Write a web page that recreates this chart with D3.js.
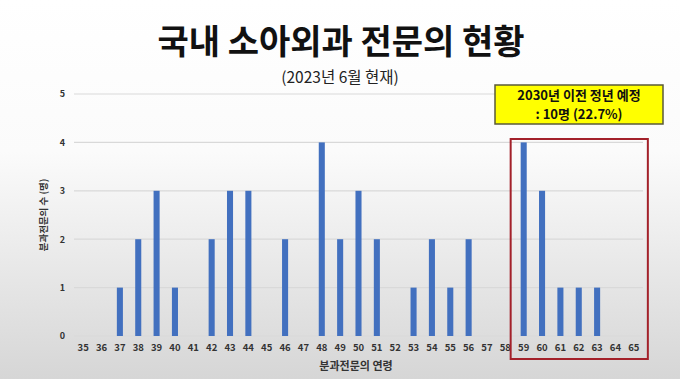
<!DOCTYPE html>
<html><head><meta charset="utf-8">
<script src="https://cdn.jsdelivr.net/npm/d3@7"></script>
<style>body{margin:0;}svg{display:block;}</style>
</head><body>
<script>
const ages = d3.range(35, 66).map(String);
const counts = [0,0,1,2,3,1,0,2,3,3,0,2,0,4,2,3,2,0,1,2,1,2,0,0,4,3,1,1,1,0,0];
const yTicks = [0,1,2,3,4,5];
const title = "국내 소아외과 전문의 현황";
const subtitle = "(2023년 6월 현재)";
const noteLines = ["2030년 이전 정년 예정", ": 10명 (22.7%)"];
const highlightAges = ["59","65"];
const yLabel = "분과전문의 수 (명)";
const xLabel = "분과전문의 연령";

(function(){
const W = 680, H = 379;
const svg = d3.select("body").append("svg").attr("width", W).attr("height", H);
const defs = svg.append("defs");
const g1 = defs.append("linearGradient").attr("id","bg").attr("x1",0).attr("y1",0).attr("x2",0).attr("y2",1);
g1.append("stop").attr("offset","0%").attr("stop-color","#ffffff");
g1.append("stop").attr("offset","40%").attr("stop-color","#fbfbfb");
g1.append("stop").attr("offset","100%").attr("stop-color","#d6d6d6");
svg.append("rect").attr("width",W).attr("height",H).attr("fill","url(#bg)");

const font = "'Noto Sans CJK KR', 'Noto Sans', sans-serif";
const pl = 74, pr = 643, pt = 94, pb = 336;
const x = d3.scaleBand().domain(ages).range([pl, pr]).paddingInner(0.67).paddingOuter(0.335);
const y = d3.scaleLinear().domain([0,5]).range([pb, pt]);

svg.append("g").selectAll("line").data(yTicks).join("line")
  .attr("x1", pl).attr("x2", pr)
  .attr("y1", d=>y(d)).attr("y2", d=>y(d))
  .attr("stroke", "#d9d9d9").attr("stroke-width", 1.2);

const yAxis = d3.axisLeft(y).tickValues(yTicks).tickFormat(d3.format("d")).tickSize(0).tickPadding(9);
const ya = svg.append("g").attr("transform",`translate(${pl},0)`).call(yAxis);
ya.select(".domain").remove();
ya.selectAll("text").attr("font-family", font).attr("font-size", 9).attr("font-weight","bold").attr("fill","#333");

const xAxis = d3.axisBottom(x).tickSize(0).tickPadding(8);
const xa = svg.append("g").attr("transform",`translate(0,${pb})`).call(xAxis);
xa.select(".domain").remove();
xa.selectAll("text").attr("font-family", font).attr("font-size", 9.5).attr("font-weight","bold").attr("fill","#333");

svg.append("g").selectAll("rect").data(counts.map((c,i)=>({a:ages[i],c}))).join("rect")
  .attr("x", d=>x(d.a)).attr("width", x.bandwidth())
  .attr("y", d=>y(d.c)).attr("height", d=>pb - y(d.c))
  .attr("fill", "#4270bf");

svg.append("text").attr("x", 341).attr("y", 54).attr("text-anchor","middle")
  .attr("font-family", font).attr("font-size", 34).attr("font-weight","bold").attr("fill","#111").text(title);
svg.append("text").attr("x", 340).attr("y", 83).attr("text-anchor","middle")
  .attr("font-family", font).attr("font-size", 15.5).attr("fill","#222").text(subtitle);

svg.append("text").attr("transform","translate(47,215) rotate(-90)").attr("text-anchor","middle")
  .attr("font-family", font).attr("font-size", 9.5).attr("font-weight","bold").attr("fill","#333").text(yLabel);
svg.append("text").attr("x", 356).attr("y", 370).attr("text-anchor","middle")
  .attr("font-family", font).attr("font-size", 11).attr("font-weight","bold").attr("fill","#333").text(xLabel);

const hx0 = x(highlightAges[0]) - 10, hx1 = x(highlightAges[1]) + x.bandwidth() + 11;
svg.append("rect").attr("x", hx0).attr("y", 139).attr("width", hx1 - hx0).attr("height", 220)
  .attr("fill","none").attr("stroke","#a3212a").attr("stroke-width", 2);

svg.append("rect").attr("x", 495).attr("y", 85).attr("width", 168).attr("height", 39)
  .attr("fill","#ffff00").attr("stroke","#5a5a3a").attr("stroke-width", 1.5);
svg.append("text").attr("x", 579).attr("y", 99.5).attr("text-anchor","middle")
  .attr("font-family", font).attr("font-size", 13).attr("font-weight","bold").attr("fill","#111").text(noteLines[0]);
svg.append("text").attr("x", 579).attr("y", 118.5).attr("text-anchor","middle")
  .attr("font-family", font).attr("font-size", 13).attr("font-weight","bold").attr("fill","#111").text(noteLines[1]);
})();
</script>
</body></html>
